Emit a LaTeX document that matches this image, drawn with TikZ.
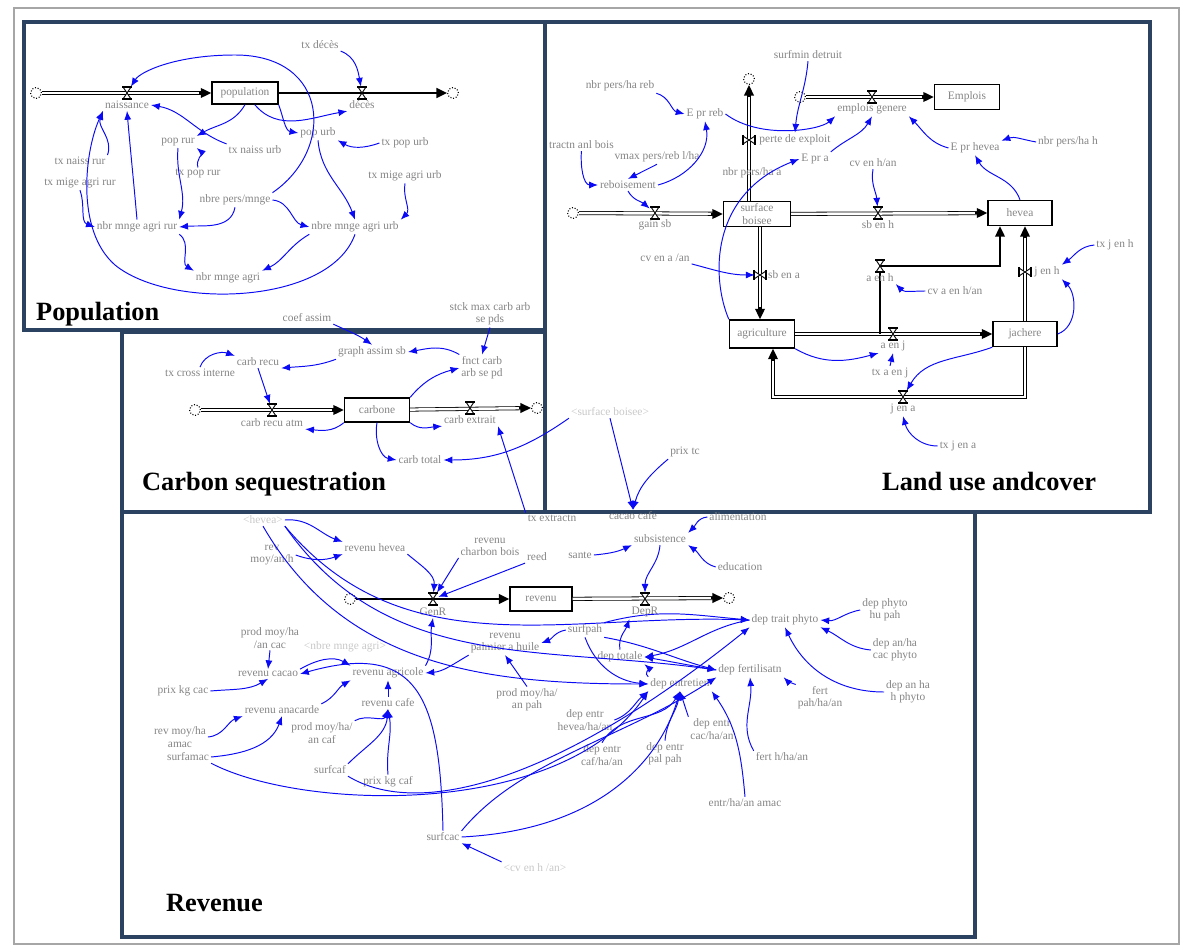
\documentclass[tikz,border=0pt]{standalone}
\usepackage{fontspec}
\setmainfont{Liberation Serif}
\usetikzlibrary{arrows.meta,positioning}
\definecolor{panelline}{HTML}{2B4261}
\definecolor{varname}{HTML}{858585}
\definecolor{linkblue}{HTML}{0A0AF5}

\tikzset{
  valveh/.pic={
    \draw[line width=0.5pt, fill=white] (-4,-6) -- (4,-6) -- (-4,6) -- (4,6) -- cycle;
    \draw[line width=1.2pt] (-5,-6) -- (5,-6) (-5,6) -- (5,6);
  },
  valvev/.pic={
    \draw[line width=0.5pt, fill=white] (-6,-4) -- (-6,4) -- (6,-4) -- (6,4) -- cycle;
    \draw[line width=1.2pt] (-6,-5) -- (-6,5) (6,-5) -- (6,5);
  },
}

\begin{document}
\begin{tikzpicture}[
  x=0.02cm, y=-0.02cm,
  every node/.style={font=\fontsize{6.5}{7}\selectfont},
  var/.style={text=varname, inner sep=1pt, align=center},
  ghost/.style={text=varname!45, inner sep=1pt},
  stock/.style={draw, line width=0.8pt, fill=white, text=varname, inner sep=1pt,
    minimum width=1.3cm, minimum height=0.48cm, align=center},
  cloudend/.style={draw, densely dotted, line width=0.6pt, circle, minimum size=0.22cm, inner sep=0pt},
  valvept/.style={inner sep=0pt, minimum width=0.2cm, minimum height=0.24cm},
  link/.style={draw=linkblue, line width=0.55pt, -{Latex[length=5pt,width=4pt]}},
  pipe/.style={draw=black, line width=0.45pt, double=white, double distance=1.4pt},
  tip/.style={-{Triangle[length=6pt,width=5.5pt]}, line width=1pt},
  flowline/.style={line width=1.3pt},
  panel/.style={draw=panelline, line width=2.2pt},
  title/.style={font=\fontsize{15}{17}\selectfont\bfseries, anchor=west},
]
\useasboundingbox (0,0) rectangle (1186,945);
\draw[gray!70, line width=0.6pt] (14,8) rectangle (1179,944);

% Panels
\draw[panel] (24,22) rectangle (545,330);
\draw[panel] (545,22) rectangle (1150,512);
\draw[panel] (122,332) rectangle (545,512);
\draw[panel] (122,512) rectangle (975,937);

% Population
\node[cloudend] (cPopIn) at (36,93) {};
\node[stock, minimum width=1.32cm, minimum height=0.44cm] (population) at (245,93) {population};
\node[cloudend] (cPopOut) at (453,93) {};
\node[valvept] (vNais) at (127,93) {};
\node[valvept] (vDeces) at (362,93) {};
\draw[pipe, shorten >=5pt] (cPopIn) -- (population);
\draw[tip] ([xshift=-7pt]population.west) -- (population.west);
\draw[tip, flowline] (population) -- (cPopOut);
\pic at (vNais) {valveh};
\pic at (vDeces) {valveh};
\node[var] (naissance) at (127,105) {naissance};
\node[var] (deces) at (362,105) {décès};
\node[var] (txDeces) at (320,45) {tx décès};
\node[var] (popRur) at (178,142) {pop rur};
\node[var] (txNaissUrb) at (255,150) {tx naiss urb};
\node[var] (popUrb) at (318,133) {pop urb};
\node[var] (txPopUrb) at (405,143) {tx pop urb};
\node[var] (txNaissRur) at (80,161) {tx naiss rur};
\node[var] (txPopRur) at (198,174) {tx pop rur};
\node[var] (txMigeRur) at (80,183) {tx mige agri rur};
\node[var] (txMigeUrb) at (405,176) {tx mige agri urb};
\node[var] (persMnge) at (235,200) {nbre pers/mnge};
\node[var] (mngeRur) at (137,227) {nbr mnge agri rur};
\node[var] (mngeUrb) at (355,227) {nbre mnge agri urb};
\node[var] (mngeAgri) at (228,278) {nbr mnge agri};
\node[title] (popTitle) at (30,314) {Population};

\draw[link] (population.310) to[out=-50,in=190] (deces.south west);
\draw[link] (txDeces.south east) to[out=-20,in=100] (vDeces);
\draw[link] (txNaissUrb.north west) to[out=160,in=-10] (naissance.east);
\draw[link] (population.south) to[out=-120,in=30] (popRur.north east);
\draw[link] (population.south east) to[out=-70,in=170] (popUrb.west);
\draw[link] (popRur.south) to[out=-95,in=75] (mngeRur.north east);
\draw[link] (txPopRur.north) to[out=110,in=-40] (popRur.south east);
\draw[link] (popUrb.south) to[out=-85,in=110] (mngeUrb.north);
\draw[link] (txPopUrb.west) to[out=200,in=-30] (popUrb.south east);
\draw[link] (txMigeUrb.south) to[out=-100,in=45] (mngeUrb.north east);
\draw[link] (persMnge.south) to[out=-100,in=5] (mngeRur.east);
\draw[link] (persMnge.east) to[out=-5,in=165] (mngeUrb.west);
\draw[link] (persMnge.north east) .. controls (335,150) and (330,55) .. (235,55)
  .. controls (175,55) and (140,72) .. (vNais);
\draw[link] (txNaissRur.north east) to[out=70,in=-110] (naissance.south west);
\draw[link] (mngeRur.north) to[out=95,in=-85] (naissance.south);
\draw[link] (mngeUrb.south) .. controls (330,305) and (170,310) .. (115,265)
  .. controls (75,230) and (85,150) .. (naissance.south west);
\draw[link] (txMigeRur.south) to[out=-70,in=160] (mngeRur.west);
\draw[link] (mngeRur.south east) to[out=-35,in=150] (mngeAgri.north west);
\draw[link] (mngeUrb.south west) to[out=-150,in=25] (mngeAgri.north east);

% Land use and cover
\node[cloudend] (cSbIn) at (573,213) {};
\node[stock, minimum width=1.34cm, minimum height=0.5cm] (sb) at (757,214) {surface\\boisee};
\node[stock, minimum width=1.28cm, minimum height=0.5cm] (hevea) at (1020,213) {hevea};
\node[stock, minimum width=1.3cm, minimum height=0.56cm] (agri) at (762,334) {agriculture};
\node[stock, minimum width=1.28cm, minimum height=0.5cm] (jachere) at (1025,334) {jachere};
\node[stock, minimum width=1.3cm, minimum height=0.5cm] (emplois) at (967,97) {Emplois};
\node[cloudend] (cPerte) at (749,79) {};
\node[cloudend] (cEmp) at (800,97) {};
\node[valvept] (vGain) at (655,213) {};
\node[valvept] (vSbH) at (878,213) {};
\node[valvept] (vPerte) at (749,140) {};
\node[valvept] (vEmp) at (872,97) {};
\node[valvept] (vSbA) at (760,275) {};
\node[valvept] (vAJ) at (893,334) {};
\node[valvept] (vAH) at (880,266) {};
\node[valvept] (vJH) at (1025,272) {};
\node[valvept] (vJA) at (903,397) {};
\coordinate (sbBase) at (760,227);
\coordinate (ahFoot) at (880,334);
\coordinate (ahBend) at (1000,266);
\coordinate (jaBend) at (773,397);
\coordinate (jaTop) at (jaBend |- agri.south);
\coordinate (perteFoot) at (sb.north -| cPerte);
\coordinate (sbaTop) at (sbBase |- agri.north);
\coordinate (jhTop) at (jachere.north |- hevea.south);
\coordinate (ahTop) at (ahBend |- hevea.south);

\draw[pipe, shorten >=5pt] (cSbIn) -- (sb);
\draw[tip] ([xshift=-7pt]sb.west) -- (sb.west);
\draw[pipe, shorten >=5pt] (perteFoot) -- (cPerte);
\draw[tip] ([yshift=-7pt]cPerte.south) -- (cPerte.south);
\draw[pipe, shorten >=5pt] (cEmp) -- (emplois);
\draw[tip] ([xshift=-7pt]emplois.west) -- (emplois.west);
\draw[pipe, shorten >=5pt] (sb) -- (hevea);
\draw[tip] ([xshift=-7pt]hevea.west) -- (hevea.west);
\draw[pipe, shorten >=5pt] (sbBase) -- (sbaTop);
\draw[tip] ([yshift=7pt]sbaTop) -- (sbaTop);
\draw[pipe, shorten >=5pt] (agri) -- (jachere);
\draw[tip] ([xshift=-7pt]jachere.west) -- (jachere.west);
\draw[pipe, shorten >=5pt] (jachere.north) -- (jhTop);
\draw[tip] ([yshift=-7pt]jhTop) -- (jhTop);
\draw[flowline] (ahFoot) |- (ahBend) -- ([yshift=-5pt]ahTop);
\draw[tip] ([yshift=-7pt]ahTop) -- (ahTop);
\draw[pipe, shorten >=5pt] (jachere.south) |- (jaBend) -- (jaTop);
\draw[tip] ([yshift=-7pt]jaTop) -- (jaTop);
\pic at (vGain) {valveh};
\pic at (vSbH) {valveh};
\pic at (vEmp) {valveh};
\pic at (vAJ) {valveh};
\pic at (vAH) {valveh};
\pic at (vJA) {valveh};
\pic at (vPerte) {valvev};
\pic at (vSbA) {valvev};
\pic at (vJH) {valvev};

\node[var] (gainSb) at (655,225) {gain sb};
\node[var] (sbEnH) at (878,225) {sb en h};
\node[var] (perte) at (795,140) {perte de exploit};
\node[var] (empG) at (872,109) {emplois genere};
\node[var] (sbEnA) at (784,275) {sb en a};
\node[var] (aEnJ) at (893,346) {a en j};
\node[var] (aEnH) at (880,278) {a en h};
\node[var] (jEnH) at (1047,272) {j en h};
\node[var] (jEnA) at (903,409) {j en a};
\node[var] (surfmin) at (808,55) {surfmin detruit};
\node[var] (nbrReb) at (620,86) {nbr pers/ha reb};
\node[var] (EprReb) at (705,114) {E pr reb};
\node[var, anchor=west] (tractn) at (547,145) {tractn anl bois};
\node[var] (vmax) at (657,157) {vmax pers/reb l/ha};
\node[var] (reb) at (628,185) {reboisement};
\node[var] (nbrA) at (752,173) {nbr pers/ha a};
\node[var] (EprA) at (815,159) {E pr a};
\node[var] (cvH) at (873,163) {cv en h/an};
\node[var] (EprH) at (975,148) {E pr hevea};
\node[var] (nbrH) at (1068,142) {nbr pers/ha h};
\node[var] (cvA) at (665,258) {cv en a /an};
\node[var] (cvAH) at (955,291) {cv a en h/an};
\node[var] (txJH) at (1115,245) {tx j en h};
\node[var] (txAJ) at (890,373) {tx a en j};
\node[var] (txJA) at (958,446) {tx j en a};
\node[title] (landTitle) at (876,482) {Land use andcover};

\draw[link] (nbrReb.south east) to[out=-15,in=165] (EprReb.west);
\draw[link] (EprReb.east) .. controls (760,140) and (820,130) .. (empG.south west);
\draw[link] (surfmin.south) to[out=-95,in=85] (perte.north);
\draw[link] (tractn.south) to[out=-95,in=180] (reb.west);
\draw[link] (vmax.south) -- (reb.north);
\draw[link] (reb.east) to[out=15,in=-80] (EprReb.south);
\draw[link] (reb.south) to[out=-60,in=140] (vGain);
\draw[link] (agri.north west) .. controls (712,280) and (708,195) .. (EprA.west);
\draw[link] (EprA.north east) to[out=40,in=-120] (empG.south);
\draw[link] (EprH.west) to[out=165,in=-45] (empG.south east);
\draw[link] (hevea.north) to[out=110,in=-60] (EprH.south);
\draw[link] (nbrH.west) to[out=170,in=20] (EprH.north east);
\draw[link] (cvH.south) to[out=-100,in=95] (vSbH);
\draw[link] (cvA.south east) to[out=-15,in=180] (vSbA);
\draw[link] (agri.south east) to[out=-30,in=195] (aEnJ.south west);
\draw[link] (txAJ.north) -- (aEnJ.south);
\draw[link] (cvAH.west) to[out=180,in=-45] (aEnH.south east);
\draw[link] (jachere.south west) to[out=200,in=60] (vJA);
\draw[link] (txJA.west) to[out=180,in=-75] (jEnA.south);
\draw[link] (txJH.west) to[out=185,in=35] (jEnH.north east);
\draw[link] (jachere.east) to[out=20,in=-45] (jEnH.south east);

% Carbon sequestration
\node[cloudend] (cCarbIn) at (195,410) {};
\node[stock] (carbone) at (377,410) {carbone};
\node[cloudend] (cCarbOut) at (537,408) {};
\node[valvept] (vRecu) at (272,410) {};
\node[valvept] (vExtr) at (470,408) {};
\draw[pipe, shorten >=5pt] (cCarbIn) -- (carbone);
\draw[tip] ([xshift=-7pt]carbone.west) -- (carbone.west);
\draw[pipe, shorten >=5pt] (carbone) -- (cCarbOut);
\draw[tip] ([xshift=-7pt]cCarbOut.west) -- (cCarbOut.west);
\pic at (vRecu) {valveh};
\pic at (vExtr) {valveh};
\node[var] (recuAtm) at (272,423) {carb recu atm};
\node[var] (extr) at (470,420) {carb extrait};
\node[var] (coefAssim) at (307,318) {coef assim};
\node[var] (stck) at (490,314) {stck max carb arb\\se pds};
\node[var] (graphAssim) at (372,352) {graph assim sb};
\node[var] (fnct) at (482,368) {fnct carb\\arb se pd};
\node[var] (carbRecu) at (258,362) {carb recu};
\node[var] (txCross) at (200,373) {tx cross interne};
\node[var] (carbTotal) at (420,460) {carb total};
\node[ghost] (sbShadow) at (610,412) {<surface boisee>};
\node[title] (carbTitle) at (136,484) {Carbon sequestration};

\draw[link] (coefAssim.south east) to[out=-25,in=145] (graphAssim.north);
\draw[link] (fnct.north west) to[out=150,in=10] (graphAssim.east);
\draw[link] (graphAssim.south west) to[out=-160,in=5] (carbRecu.south east);
\draw[link] (txCross.north) to[out=70,in=160] (carbRecu.north west);
\draw[link] (carbRecu.south) -- (vRecu);
\draw[link] (stck.south) -- (fnct.north);
\draw[link] (carbone.north east) to[out=50,in=195] (fnct.west);
\draw[link] (carbone.south west) to[out=-140,in=-5] (recuAtm.south east);
\draw[link] (carbone.south east) to[out=-40,in=185] (extr.south west);
\draw[link] (carbone.south) to[out=-100,in=170] (carbTotal.west);
\draw[link] (sbShadow.south west) to[out=-145,in=0] (carbTotal.east);

% Revenue
\node[cloudend] (cRevIn) at (350,599) {};
\node[stock, minimum width=1.24cm] (revenu) at (541,599) {revenu};
\node[cloudend] (cRevOut) at (729,598) {};
\node[valvept] (vGen) at (433,599) {};
\node[valvept] (vDep) at (645,599) {};
\draw[tip, flowline] (cRevIn) -- (revenu);
\draw[pipe, shorten >=5pt] (revenu) -- (cRevOut);
\draw[tip] ([xshift=-7pt]cRevOut.west) -- (cRevOut.west);
\pic at (vGen) {valveh};
\pic at (vDep) {valveh};
\node[var] (genR) at (433,612) {GenR};
\node[var] (depR) at (645,612) {DepR};
\node[var] (txExtr) at (552,518) {tx extractn};
\node[var] (cacaoCafe) at (633,516) {cacao cafe};
\node[var] (prixTc) at (685,452) {prix tc};
\node[var] (alim) at (738,517) {alimentation};
\node[var] (subs) at (660,539) {subsistence};
\node[var] (sante) at (580,555) {sante};
\node[var] (educ) at (740,567) {education};
\node[ghost] (heveaSh) at (263,520) {<hevea>};
\node[var] (revHev) at (375,548) {revenu hevea};
\node[var] (revMoyH) at (272,555) {rev\\moy/an/h};
\node[var] (revChar) at (490,547) {revenu\\charbon bois};
\node[var] (reed) at (537,557) {reed};
\node[var] (depTrait) at (785,620) {dep trait phyto};
\node[var] (depPhytoPah) at (885,610) {dep phyto\\hu pah};
\node[var] (depAnCac) at (895,650) {dep an/ha\\cac phyto};
\node[var] (depAnH) at (908,692) {dep an ha\\h phyto};
\node[var] (depFert) at (750,670) {dep fertilisatn};
\node[var] (fertPah) at (820,698) {fert\\pah/ha/an};
\node[var] (fertH) at (782,757) {fert h/ha/an};
\node[var] (entrAmac) at (745,803) {entr/ha/an amac};
\node[var] (depEntrCac) at (712,729) {dep entr\\cac/ha/an};
\node[var] (depEntrPal) at (665,754) {dep entr\\pal pah};
\node[var] (depEntrCaf) at (602,755) {dep entr\\caf/ha/an};
\node[var] (depEntrHev) at (585,720) {dep entr\\hevea/ha/an};
\node[var] (depEntretien) at (680,684) {dep entretien};
\node[var] (depTot) at (620,657) {dep totale};
\node[var] (surfPah) at (585,630) {surfpah};
\node[var] (revPal) at (505,643) {revenu\\palmier a huile};
\node[var] (prodPah) at (527,700) {prod moy/ha/\\an pah};
\node[var] (prodCac) at (270,638) {prod moy/ha\\/an cac};
\node[ghost] (mngeSh) at (345,647) {<nbre mnge agri>};
\node[var] (revCac) at (268,674) {revenu cacao};
\node[var] (revAgri) at (388,673) {revenu agricole};
\node[var] (prixCac) at (183,691) {prix kg cac};
\node[var] (revAna) at (282,710) {revenu anacarde};
\node[var] (revCafe) at (388,703) {revenu cafe};
\node[var] (prodCaf) at (322,733) {prod moy/ha/\\an caf};
\node[var] (revAmac) at (180,737) {rev moy/ha\\amac};
\node[var] (surfAmac) at (188,757) {surfamac};
\node[var] (surfCaf) at (330,770) {surfcaf};
\node[var] (prixCaf) at (388,782) {prix kg caf};
\node[var] (surfCac) at (443,837) {surfcac};
\node[ghost] (cvShadow) at (535,868) {<cv en h /an>};
\node[title] (revTitle) at (160,903) {Revenue};

\draw[link] (txExtr.north west) -- (extr.south east);
\draw[link] (heveaSh.east) to[out=5,in=160] (revHev.north west);
\draw[link] (revMoyH.east) to[out=-20,in=200] (revHev.south west);
\draw[link] (revHev.south east) to[out=-40,in=85] (vGen);
\draw[link] (revChar.south west) -- (vGen);
\draw[link] (reed.south west) -- (vGen);
\draw[link] (sbShadow.south) -- (cacaoCafe.north);
\draw[link] (prixTc.south west) to[out=-140,in=75] (cacaoCafe.north);
\draw[link] (alim.west) to[out=185,in=45] (subs.north east);
\draw[link] (sante.east) to[out=5,in=205] (subs.south west);
\draw[link] (educ.west) to[out=165,in=-35] (subs.south east);
\draw[link] (subs.south) to[out=-95,in=90] (vDep);
\draw[link] (depTot.north) to[out=100,in=-110] (depR.south west);
\draw[link] (depPhytoPah.west) to[out=190,in=-5] (depTrait.east);
\draw[link] (depAnCac.west) to[out=175,in=-25] (depTrait.south east);
\draw[link] (depAnH.west) to[out=180,in=-65] (depTrait.south);
\draw[link] (fertPah.north west) to[out=160,in=-45] (depFert.south east);
\draw[link] (fertH.north west) to[out=120,in=-85] (depFert.south);
\draw[link] (entrAmac.north) to[out=95,in=-55] (depEntretien.south east);
\draw[link] (depEntrCac.north west) -- (depEntretien.south);
\draw[link] (depEntrPal.north) to[out=85,in=-100] (depEntretien.south);
\draw[link] (depEntrCaf.north) to[out=60,in=-120] (depEntretien.south);
\draw[link] (depEntrHev.east) to[out=20,in=-140] (depEntretien.south west);
\draw[link] (depTrait.west) to[out=190,in=10] (depTot.east);
\draw[link] (depFert.west) to[out=170,in=-10] (depTot.east);
\draw[link] (depEntretien.north west) to[out=150,in=-40] (depTot.south east);
\draw[link] (surfPah.west) to[out=-170,in=20] (revPal.east);
\draw[link] (surfPah.north east) to[out=15,in=175] (depTrait.west);
\draw[link] (surfPah.south east) to[out=-10,in=165] (depFert.west);
\draw[link] (surfPah.south) to[out=-70,in=175] (depEntretien.west);
\draw[link] (heveaSh.south east) to[out=-50,in=178] (depTrait.west);
\draw[link] (heveaSh.south east) to[out=-55,in=172] (depFert.west);
\draw[link] (heveaSh.south) to[out=-60,in=180] (depEntretien.west);
\draw[link] (prodPah.north) -- (revPal.south);
\draw[link] (revPal.south west) to[out=-150,in=5] (revAgri.east);
\draw[link] (revAgri.north east) to[out=60,in=-100] (genR.south);
\draw[link] (prodCac.south) -- (revCac.north);
\draw[link] (prixCac.east) to[out=5,in=-150] (revCac.south);
\draw[link] (revCac.north east) to[out=30,in=150] (revAgri.north west);
\draw[link] (revAna.north east) to[out=25,in=-150] (revAgri.south west);
\draw[link] (revCafe.north) -- (revAgri.south);
\draw[link] (revAmac.east) to[out=5,in=-160] (revAna.south west);
\draw[link] (surfAmac.east) to[out=5,in=-110] (revAna.south);
\draw[link] (prodCaf.north east) to[out=30,in=-110] (revCafe.south);
\draw[link] (surfCaf.north east) to[out=45,in=-95] (revCafe.south);
\draw[link] (prixCaf.north) to[out=95,in=-80] (revCafe.south);
\draw[link] (surfAmac.south east) .. controls (300,810) and (560,820) .. (depEntretien.south west);
\draw[link] (surfCaf.south east) .. controls (420,820) and (560,780) .. (depTrait.south west);
\draw[link] (surfCac.north) .. controls (440,700) and (420,640) .. (revCac.east);
\draw[link] (surfCac.north east) .. controls (520,760) and (620,740) .. (depFert.south west);
\draw[link] (surfCac.east) .. controls (600,830) and (660,760) .. (depEntretien.south);
\draw[link] (cvShadow.north west) -- (surfCac.south east);
\end{tikzpicture}
\end{document}
